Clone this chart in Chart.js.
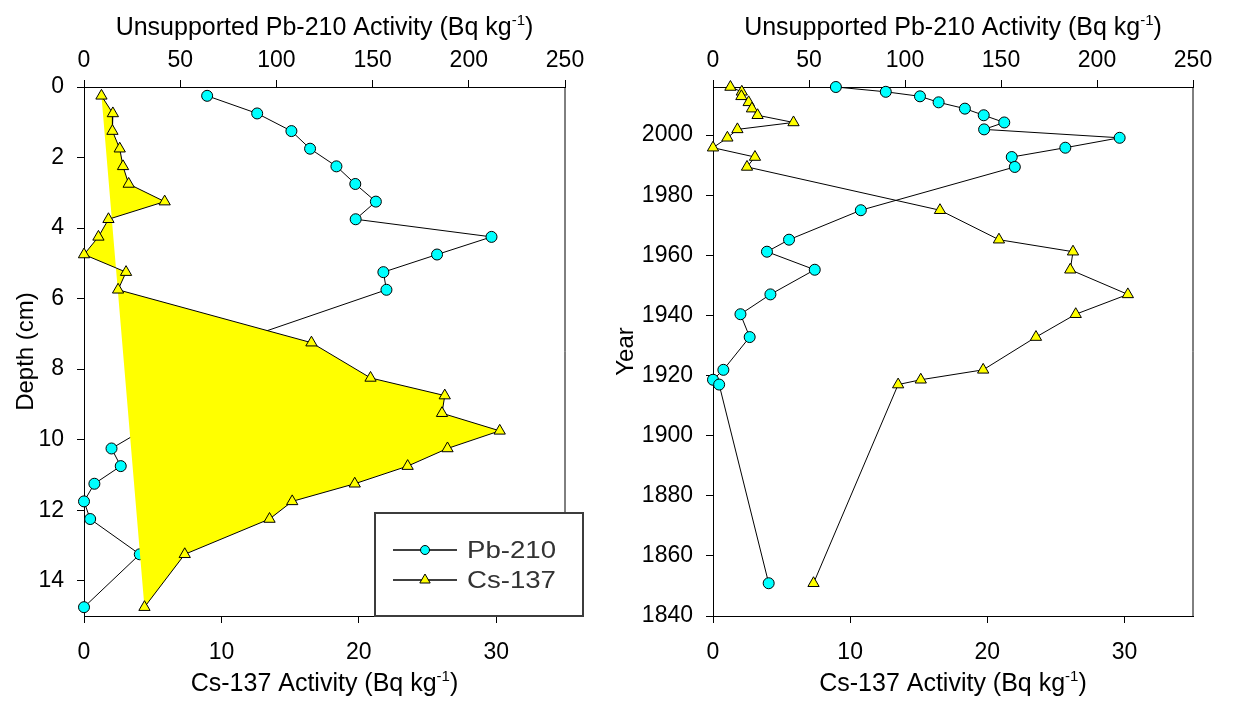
<!DOCTYPE html>
<html>
<head>
<meta charset="utf-8">
<script src="https://cdn.jsdelivr.net/npm/chart.js@4.4.1/dist/chart.umd.min.js"></script>
<style>
  html, body { margin: 0; padding: 0; background: #fff; }
  #wrap { position: relative; width: 1243px; height: 702px; }
  #depthChart { position: absolute; left: 0; top: 0; }
  #yearChart { position: absolute; left: 600px; top: 0; }
</style>
</head>
<body>
<div id="wrap">
  <canvas id="depthChart" width="600" height="702"></canvas>
  <canvas id="yearChart" width="643" height="702"></canvas>
</div>
<script>
// sample depths (cm), mid-point of each slice
const depthCm = [0.25, 0.75, 1.25, 1.75, 2.25, 2.75, 3.25, 3.75, 4.25, 4.75, 5.25, 5.75,
                 7.25, 8.25, 8.75, 9.25, 9.75, 10.25, 10.75, 11.25, 11.75, 12.25, 13.25, 14.75];
// unsupported Pb-210 (Bq/kg)
const pb210 = [64, 90, 107.8, 117.5, 131.2, 141, 151.7, 141.2, 211.8, 183.5, 155.6, 157.2,
               77, 39.6, 28.1, 53, 29.9, 14.3, 19.1, 5.4, 0, 3.2, 29, 0];
// Cs-137 (Bq/kg)
const cs137 = [1.27, 2.1, 2.07, 2.6, 2.84, 3.25, 5.87, 1.78, 1.05, 0, 3.06, 2.48,
               16.55, 20.85, 26.25, 26.05, 30.25, 26.45, 23.55, 19.7, 15.15, 13.5, 7.33, 4.4];
// dates for the first 23 samples (the deepest one is undated)
const sampleYear = [2016, 2014.4, 2012.9, 2010.9, 2008.8, 2006.6, 2004.2, 2001.9, 1999.1, 1995.8, 1992.7, 1989.4,
                    1975, 1965.2, 1961.2, 1955.2, 1947, 1940.4, 1932.8, 1921.9, 1918.6, 1917, 1850.9];

const pbTitle = ['Unsupported Pb-210 Activity (Bq kg', '-1', ')'];
const csTitle = ['Cs-137 Activity (Bq kg', '-1', ')'];

const FONT = 'Liberation Sans, Arial, sans-serif';
Chart.defaults.font.family = FONT;
Chart.defaults.color = '#000';

function pairs(xs, ys) {
    return ys.map((y, i) => ({ x: xs[i], y: y }));
}

function makeAxis(position, min, max, step, size, pad, extra) {
    const ax = {
        type: 'linear',
        position: position,
        min: min,
        max: max,
        grid: { drawOnChartArea: false, drawTicks: true, tickLength: 7, color: '#000', lineWidth: 1 },
        border: { display: true, color: '#000', width: 1 },
        ticks: {
            stepSize: step,
            includeBounds: false,
            color: '#000',
            padding: pad,
            font: { size: 23 },
            callback: v => String(v)
        },
        afterFit: function (scale) {
            if (scale.isHorizontal()) scale.height = size;
            else scale.width = size;
        }
    };
    return Object.assign(ax, extra || {});
}

// right edge of the frame
const framePlugin = {
    id: 'frame',
    beforeDatasetsDraw(chart) {
        const a = chart.chartArea;
        const ctx = chart.ctx;
        ctx.save();
        ctx.strokeStyle = '#000';
        ctx.lineWidth = 1;
        ctx.beginPath();
        ctx.moveTo(a.right, a.top);
        ctx.lineTo(a.right, a.bottom);
        ctx.stroke();
        ctx.restore();
    }
};

function drawSupTitle(ctx, parts, cx, baseline) {
    ctx.save();
    ctx.fillStyle = '#000';
    ctx.textBaseline = 'alphabetic';
    ctx.textAlign = 'left';
    const big = '25px ' + FONT, small = '15px ' + FONT;
    ctx.font = big;
    const w0 = ctx.measureText(parts[0]).width;
    const w2 = ctx.measureText(parts[2]).width;
    ctx.font = small;
    const w1 = ctx.measureText(parts[1]).width;
    let x = cx - (w0 + w1 + w2) / 2;
    ctx.font = big;
    ctx.fillText(parts[0], x, baseline);
    x += w0;
    ctx.font = small;
    ctx.fillText(parts[1], x, baseline - 10);
    x += w1;
    ctx.font = big;
    ctx.fillText(parts[2], x, baseline);
    ctx.restore();
}

const titlesPlugin = {
    id: 'xTitles',
    afterDraw(chart) {
        const a = chart.chartArea;
        const cx = (a.left + a.right) / 2;
        drawSupTitle(chart.ctx, pbTitle, cx, 35);
        drawSupTitle(chart.ctx, csTitle, cx, 691);
    }
};

const legendPlugin = {
    id: 'boxLegend',
    afterDraw(chart) {
        const ctx = chart.ctx;
        ctx.save();
        ctx.fillStyle = '#fff';
        ctx.fillRect(375, 513, 208, 103);
        ctx.strokeStyle = '#3c3c3c';
        ctx.lineWidth = 2;
        ctx.strokeRect(375, 513, 208, 103);
        // Pb first, then Cs (datasets are stored the other way round)
        const rows = [chart.data.datasets[1], chart.data.datasets[0]];
        rows.forEach((ds, i) => {
            const y = 550 + i * 30;
            ctx.strokeStyle = '#000';
            ctx.lineWidth = 1.5;
            ctx.beginPath();
            ctx.moveTo(393, y);
            ctx.lineTo(457, y);
            ctx.stroke();
            ctx.fillStyle = ds.pointBackgroundColor;
            ctx.strokeStyle = '#000';
            ctx.lineWidth = 1;
            Chart.helpers.drawPoint(ctx, {
                pointStyle: ds.pointStyle,
                radius: ds.pointStyle === 'circle' ? 4.5 : 6,
                borderWidth: 1,
                rotation: 0
            }, 425, y);
            ctx.save();
            ctx.translate(467, y + 1);
            ctx.scale(1.15, 1);
            ctx.fillStyle = '#333';
            ctx.font = '24px ' + FONT;
            ctx.textBaseline = 'middle';
            ctx.textAlign = 'left';
            ctx.fillText(ds.label, 0, 0);
            ctx.restore();
        });
        ctx.restore();
    }
};

function csDataset(points, withFill) {
    return {
        label: 'Cs-137',
        data: points,
        xAxisID: 'x',
        showLine: true,
        borderColor: '#000',
        borderWidth: 1,
        backgroundColor: '#ffff00',
        fill: withFill ? 'shape' : false,
        pointStyle: 'triangle',
        pointRadius: 6.5,
        pointBackgroundColor: '#ffff00',
        pointBorderColor: '#000',
        pointBorderWidth: 1,
        clip: false
    };
}

function pbDataset(points) {
    return {
        label: 'Pb-210',
        data: points,
        xAxisID: 'xTop',
        showLine: true,
        borderColor: '#000',
        borderWidth: 1,
        fill: false,
        pointStyle: 'circle',
        pointRadius: 5.5,
        pointBackgroundColor: '#00ffff',
        pointBorderColor: '#000',
        pointBorderWidth: 1,
        clip: false
    };
}

const commonOptions = {
    responsive: false,
    animation: false,
    devicePixelRatio: 1,
    events: []
};

// Depth profile
new Chart(document.getElementById('depthChart'), {
    type: 'scatter',
    data: {
        datasets: [
            csDataset(pairs(cs137, depthCm), true),
            pbDataset(pairs(pb210, depthCm))
        ]
    },
    options: Object.assign({}, commonOptions, {
        layout: { padding: { left: 0, right: 35, top: 0, bottom: 0 } },
        plugins: {
            legend: { display: false },
            tooltip: { enabled: false },
            filler: { drawTime: 'beforeDatasetDraw' }
        },
        scales: {
            x: makeAxis('bottom', 0, 35, 10, 86, 16),
            xTop: makeAxis('top', 0, 250, 50, 87, 6),
            y: makeAxis('left', 0, 15, 2, 84, 13, {
                reverse: true,
                title: { display: true, text: 'Depth (cm)', font: { size: 24 }, padding: { top: 12, bottom: 0 } }
            })
        }
    }),
    plugins: [framePlugin, titlesPlugin, legendPlugin]
});

// Year profile
new Chart(document.getElementById('yearChart'), {
    type: 'scatter',
    data: {
        datasets: [
            csDataset(pairs(cs137, sampleYear), false),
            pbDataset(pairs(pb210, sampleYear))
        ]
    },
    options: Object.assign({}, commonOptions, {
        layout: { padding: { left: 0, right: 50, top: 0, bottom: 0 } },
        plugins: {
            legend: { display: false },
            tooltip: { enabled: false }
        },
        scales: {
            x: makeAxis('bottom', 0, 35, 10, 86, 16),
            xTop: makeAxis('top', 0, 250, 50, 87, 6),
            y: makeAxis('left', 1840, 2016, 20, 113, 13, {
                title: { display: true, text: 'Year', font: { size: 24 }, padding: { top: 12, bottom: 0 } }
            })
        }
    }),
    plugins: [framePlugin, titlesPlugin]
});
</script>
</body>
</html>
